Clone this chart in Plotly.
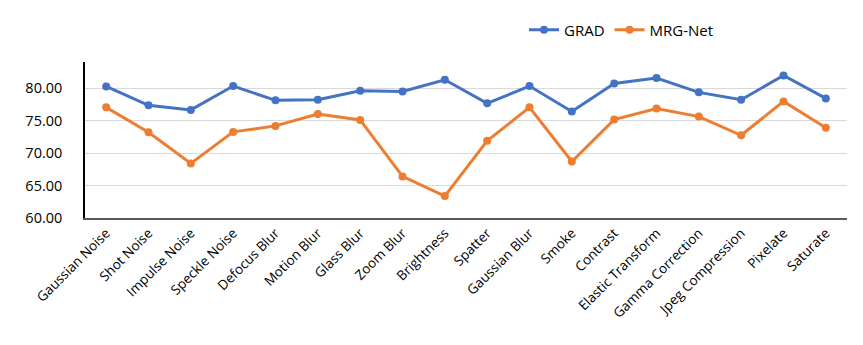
import plotly.graph_objects as go

# Corruption types (x categories)
categories = [
    "Gaussian Noise", "Shot Noise", "Impulse Noise", "Speckle Noise",
    "Defocus Blur", "Motion Blur", "Glass Blur", "Zoom Blur", "Brightness",
    "Spatter", "Gaussian Blur", "Smoke", "Contrast", "Elastic Transform",
    "Gamma Correction", "Jpeg Compression", "Pixelate", "Saturate",
]

# Series values
grad = [80.25, 77.33, 76.63, 80.30, 78.10, 78.20, 79.59, 79.48, 81.27,
        77.64, 80.30, 76.37, 80.70, 81.53, 79.33, 78.20, 81.93, 78.40]
mrg_net = [77.02, 73.19, 68.39, 73.25, 74.17, 76.00, 75.09, 66.40, 63.37,
           71.87, 77.02, 68.70, 75.14, 76.83, 75.60, 72.73, 77.94, 73.90]

y_ticks = [60, 65, 70, 75, 80]

series = [("GRAD", grad, "#4472C4"), ("MRG-Net", mrg_net, "#ED7D31")]

fig = go.Figure()
for name, values, color in series:
    fig.add_trace(go.Scatter(
        x=categories,
        y=values,
        name=name,
        mode="lines+markers",
        line=dict(color=color, width=3),
        marker=dict(color=color, size=8),
    ))

# the page body keeps its default 8px margin, so the figure is sized to fit
fig.update_layout(
    width=855,
    height=337,
    paper_bgcolor="white",
    plot_bgcolor="white",
    font=dict(family="Open Sans", color="#000000"),
    margin=dict(l=77, r=16, t=54, b=127, autoexpand=False),
    showlegend=True,
    legend=dict(
        orientation="h",
        xref="container", yref="container",
        x=0.6035, xanchor="left",
        y=0.935, yanchor="middle",
        font=dict(size=15),
        itemwidth=30,
        traceorder="normal",
    ),
    xaxis=dict(
        type="category",
        range=[-0.5, len(categories) - 0.5],
        automargin=False,
        showgrid=False,
        showline=True,
        linecolor="#595959",
        linewidth=2,
        tickangle=-45,
        tickfont=dict(size=13.5),
        ticks="",
    ),
    yaxis=dict(
        range=[60, 84],
        automargin=False,
        tickvals=y_ticks,
        ticktext=[f"{v:.2f}" for v in y_ticks],
        showgrid=True,
        gridcolor="#D9D9D9",
        gridwidth=1,
        zeroline=False,
        showline=True,
        linecolor="#000000",
        linewidth=1.5,
        tickfont=dict(size=14.5),
        ticklabelstandoff=18,
    ),
)

fig.write_html("out.html")
